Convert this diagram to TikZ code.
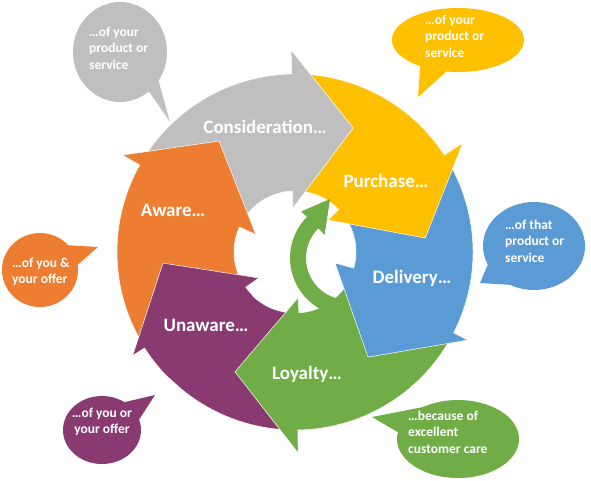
\documentclass[tikz,border=0pt]{standalone}
\usepackage{fontspec}
\setmainfont{Carlito}
\definecolor{cgray}{RGB}{191,191,191}
\definecolor{corange}{RGB}{237,125,49}
\definecolor{cyellow}{RGB}{255,192,0}
\definecolor{cblue}{RGB}{91,155,213}
\definecolor{cgreen}{RGB}{112,173,71}
\definecolor{cpurple}{RGB}{137,58,112}
\newcommand{\spbubble}[9]{\begin{scope}[shift={(#2,#3)}]\fill[#1] (0,0) ellipse[x radius=#4,y radius=#5];\fill[#1] (#6:#4 and #5) -- (#8,#9) -- (#7:#4 and #5) -- cycle;\end{scope}}
\begin{document}
\begin{tikzpicture}[x=1pt,y=-1pt,
  arr/.style={fill=#1,draw=white,line width=0.5pt,line join=miter},
  big/.style={text=white,font=\fontsize{19}{22}\selectfont\bfseries,inner sep=0pt},
  small/.style={text=white,font=\fontsize{13.5}{16.5}\selectfont\bfseries,inner sep=0pt,align=left,anchor=west}]
\useasboundingbox (0,0) rectangle (591,480);
% speech bubbles
\spbubble{cgray}{120}{52}{47}{50}{35}{52}{50}{70}
\spbubble{cyellow}{458}{40}{66}{32}{100}{125}{-40}{57}
\spbubble{cblue}{534}{246}{51}{44}{118}{155}{-54}{37}
\spbubble{corange}{40}{270}{38}{37}{-42}{-8}{58}{-23}
\spbubble{cpurple}{102}{430}{39}{34}{-55}{-18}{53}{-35}
\spbubble{cgreen}{458}{439}{61}{39}{190}{235}{-86}{-22}
% cycle arrows
\begin{scope}[shift={(295,252)}]
\path[arr=cpurple] (441:178) arc[start angle=441,end angle=507.6,radius=178] -- (507.6:192) -- (535.2:132.5) -- (504.9:45) -- (504.9:61) arc[start angle=504.9,end angle=441,radius=61] -- cycle;
\path[arr=cgreen] (370:178) arc[start angle=370,end angle=449.1,radius=178] -- (449.1:201) -- (476.6:134) -- (446.3:46) -- (446.3:61) arc[start angle=446.3,end angle=370,radius=61] -- cycle;
\path[arr=cblue] (311:178) arc[start angle=311,end angle=387,radius=178] -- (387:194) -- (415.2:128) -- (375.4:41.5) -- (375.4:61) arc[start angle=375.4,end angle=311,radius=61] -- cycle;
\path[arr=cyellow] (262:178) arc[start angle=262,end angle=327,radius=178] -- (327:200) -- (353.9:131) -- (315.9:46) -- (315.9:61) arc[start angle=315.9,end angle=262,radius=61] -- cycle;
\path[arr=cgray] (199:178) arc[start angle=199,end angle=268.9,radius=178] -- (268.9:202) -- (295.1:137) -- (267.4:44) -- (267.4:61) arc[start angle=267.4,end angle=199,radius=61] -- cycle;
\path[arr=corange] (140:178) arc[start angle=140,end angle=209.3,radius=178] -- (209.3:198) -- (235.6:134.5) -- (204.2:43) -- (204.2:61) arc[start angle=204.2,end angle=140,radius=61] -- cycle;
\fill[cpurple] (135:178) arc[start angle=135,end angle=147.6,radius=178] -- (147.6:192) -- (175.2:132.5) -- (144.9:45) -- (144.9:61) arc[start angle=144.9,end angle=135,radius=61] -- cycle;
\draw[white,line width=0.5pt] (147.6:192) -- (175.2:132.5) -- (144.9:45);
\end{scope}
% inner return arrow
\begin{scope}[shift={(348,258)}]
\fill[cgreen] (105:58) arc[start angle=105,end angle=225,radius=58] -- (225:66) -- (-18,-59) -- (225:33) -- (225:42) arc[start angle=225,end angle=105,radius=42] -- cycle;
\end{scope}
% labels
\node[big] (cons) at (265,127) {Consideration…};
\node[big] (purch) at (386,181) {Purchase…};
\node[big] (deliv) at (412,278) {Delivery…};
\node[big] (loyal) at (307,374) {Loyalty…};
\node[big] (unaw) at (206,325) {Unaware…};
\node[big] (aware) at (173,210) {Aware…};
% bubble texts
\node[small] (tgray) at (89,48) {…of your\\product or\\service};
\node[small] (tyellow) at (425,36) {…of your\\product or\\service};
\node[small] (tblue) at (505,241) {…of that\\product or\\service};
\node[small] (torange) at (12,272) {…of you \&\\your offer};
\node[small,align=center,anchor=center] (tpurple) at (102,422) {…of you or\\your offer};
\node[small] (tgreen) at (408,432) {…because of\\excellent\\customer care};
\end{tikzpicture}
\end{document}
